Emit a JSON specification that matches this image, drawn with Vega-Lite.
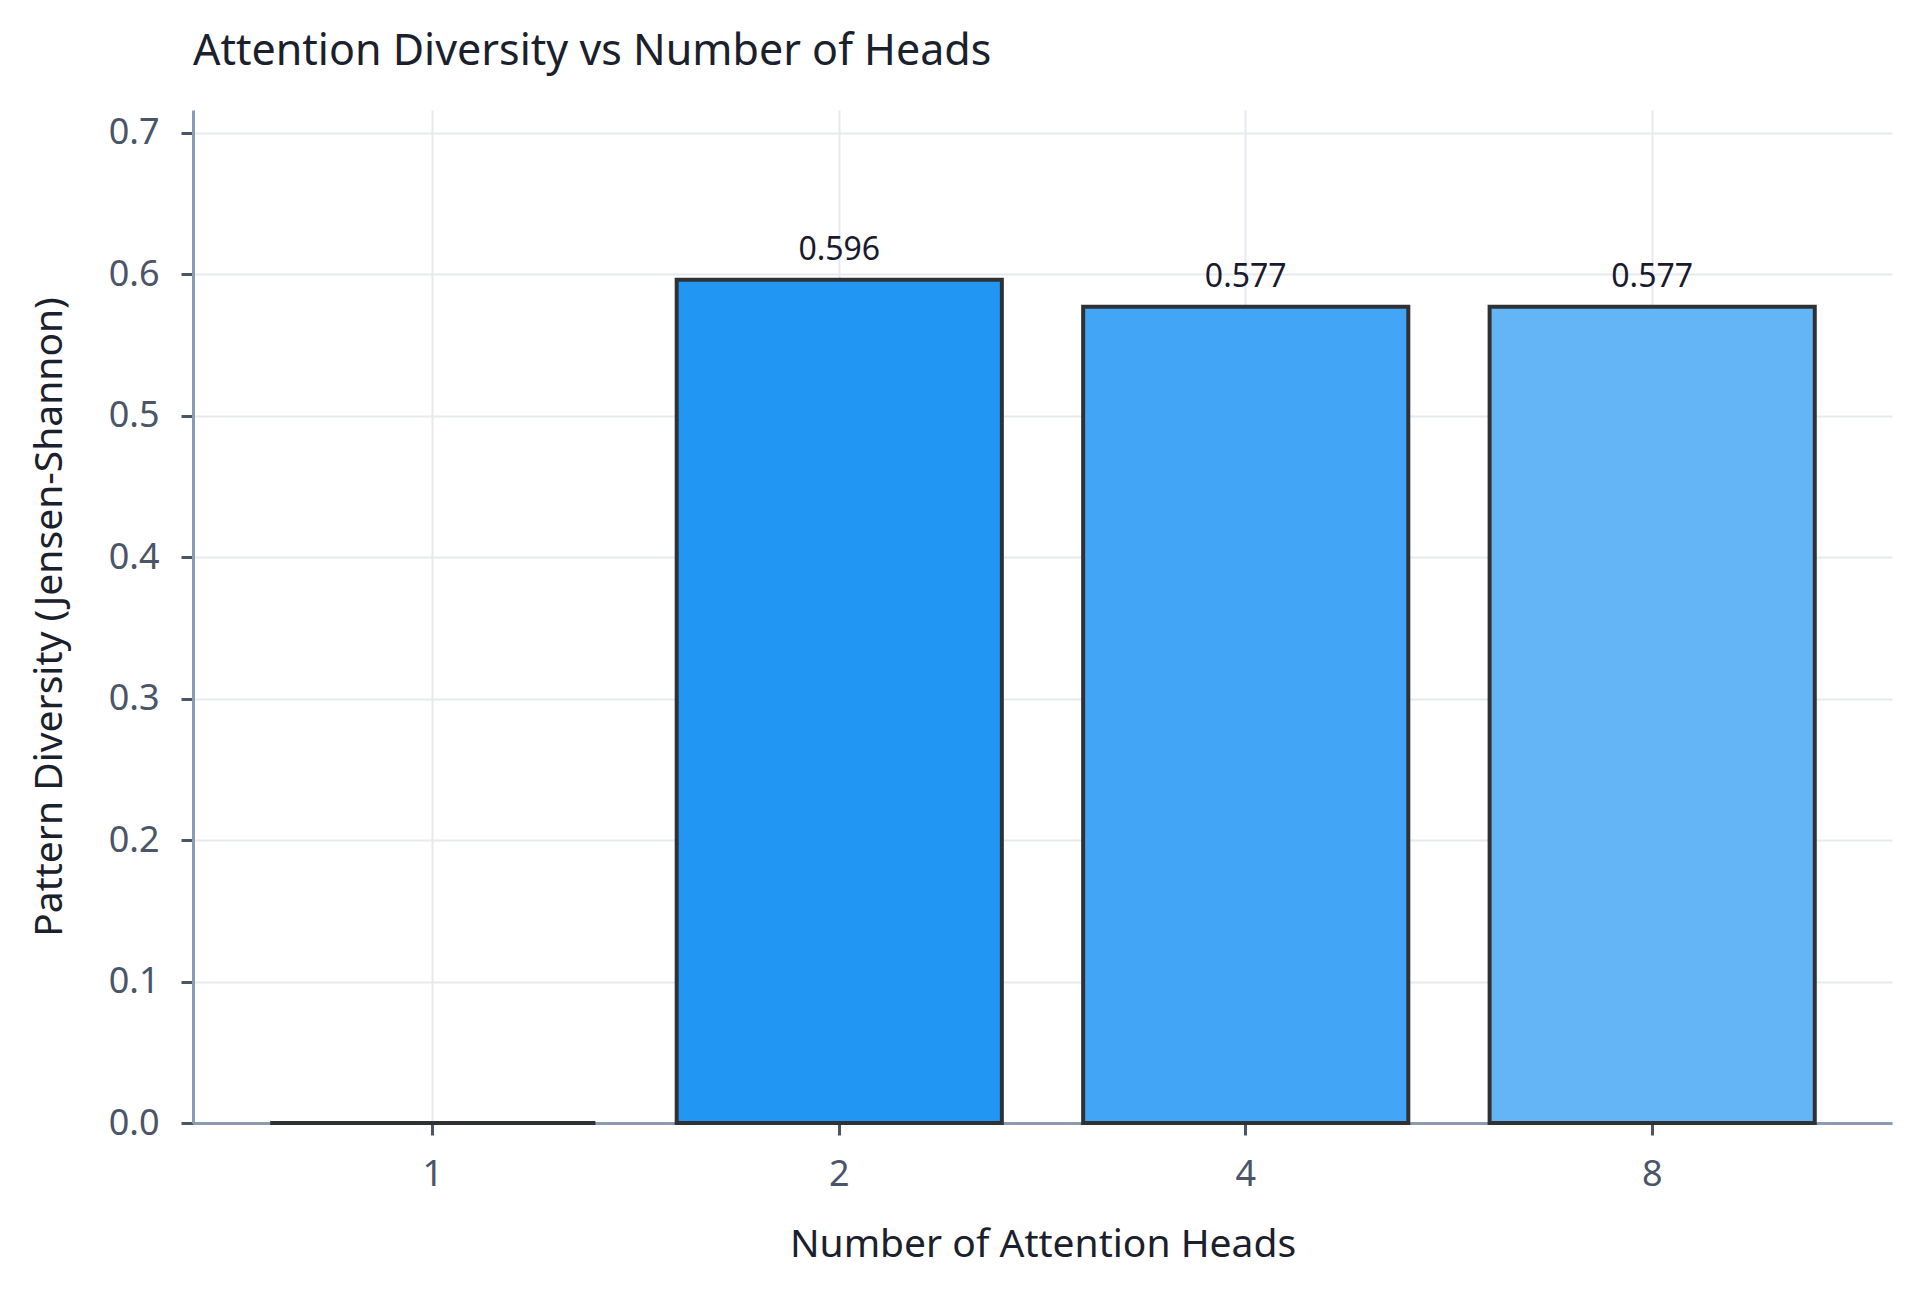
{
  "$schema": "https://vega.github.io/schema/vega-lite/v6.json",
  "width": 1699,
  "height": 1013,
  "autosize": {"type": "none"},
  "padding": {"left": 193, "top": 110, "right": 28, "bottom": 169},
  "background": "white",
  "title": {
    "text": "Attention Diversity vs Number of Heads",
    "anchor": "start",
    "frame": "group",
    "baseline": "alphabetic",
    "offset": 2,
    "fontSize": 43,
    "fontWeight": "normal",
    "font": "Noto Sans",
    "color": "#1a202c"
  },
  "data": {
    "values": [
      {"heads": "1", "diversity": 0.0},
      {"heads": "2", "diversity": 0.596},
      {"heads": "4", "diversity": 0.577},
      {"heads": "8", "diversity": 0.577}
    ]
  },
  "encoding": {
    "x": {
      "field": "heads",
      "type": "ordinal",
      "sort": ["1", "2", "4", "8"],
      "title": "Number of Attention Heads",
      "scale": {"paddingInner": 0.2, "paddingOuter": 0.19},
      "axis": {"labelAngle": 0, "bandPosition": 0.5, "grid": true}
    },
    "y": {
      "field": "diversity",
      "type": "quantitative",
      "title": "Pattern Diversity (Jensen-Shannon)",
      "scale": {"domain": [0, 0.716], "nice": false, "zero": true},
      "axis": {"values": [0, 0.1, 0.2, 0.3, 0.4, 0.5, 0.6, 0.7], "format": ".1f"}
    }
  },
  "layer": [
    {
      "mark": {"type": "bar", "stroke": "#2f3235", "strokeWidth": 4},
      "encoding": {
        "color": {
          "field": "heads",
          "type": "ordinal",
          "legend": null,
          "scale": {
            "domain": ["1", "2", "4", "8"],
            "range": ["#1976d2", "#2196f3", "#42a5f5", "#64b5f6"]
          }
        }
      }
    },
    {
      "transform": [{"filter": "datum.diversity > 0"}],
      "mark": {
        "type": "text",
        "baseline": "alphabetic",
        "dy": -20,
        "fontSize": 32,
        "font": "Noto Sans",
        "color": "#1a1a2e"
      },
      "encoding": {
        "text": {"field": "diversity", "type": "quantitative", "format": ".3f"}
      }
    }
  ],
  "config": {
    "view": {"stroke": null},
    "font": "Noto Sans",
    "axis": {
      "labelFont": "Noto Sans",
      "titleFont": "Noto Sans",
      "labelFontSize": 36,
      "titleFontSize": 39,
      "titleFontWeight": "normal",
      "labelColor": "#4a5568",
      "titleColor": "#1a202c",
      "domainColor": "#8a9bb2",
      "domainWidth": 3,
      "tickColor": "#4a5568",
      "tickWidth": 3,
      "tickSize": 12,
      "gridColor": "#e6e9ee",
      "gridWidth": 2
    },
    "axisX": {"labelPadding": 22, "titlePadding": 33},
    "axisY": {"labelPadding": 22, "titlePadding": 39}
  }
}
